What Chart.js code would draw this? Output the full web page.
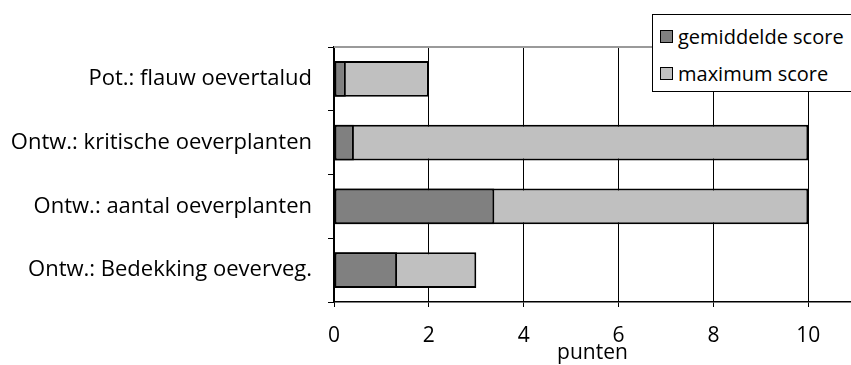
<!DOCTYPE html>
<html>
<head>
<meta charset="utf-8">
<script src="https://cdn.jsdelivr.net/npm/chart.js@4/dist/chart.umd.min.js"></script>
<style>
  html, body { margin: 0; padding: 0; background: #fff; }
  #wrap { position: relative; width: 851px; height: 365px; overflow: hidden; }
  #legend { position: absolute; left: 652px; top: 14px; width: 210px; height: 76px;
    border: 1px solid #000; background: #fff; font-family: "Open Sans", sans-serif; font-size: 20px; color: #000; }
  .item { position: absolute; left: 7px; height: 24px; line-height: 24px; white-space: nowrap; }
  .sw { display: inline-block; width: 11px; height: 11px; border: 1.5px solid #000; vertical-align: middle; margin-right: 5px; position: relative; top: -2px; }
</style>
</head>
<body>
<div id="wrap">
  <canvas id="c" width="851" height="365"></canvas>
  <div id="legend"></div>
</div>
<script>
const categories = ["Pot.: flauw oevertalud", "Ontw.: kritische oeverplanten", "Ontw.: aantal oeverplanten", "Ontw.: Bedekking oeverveg."];
const gemiddeldeScore = [0.25, 0.42, 3.38, 1.33];
const maximumScore = [2, 10, 10, 3];
const seriesNames = ["gemiddelde score", "maximum score"];
const seriesColors = ["#808080", "#c0c0c0"];
const xTicks = [0, 2, 4, 6, 8, 10];
const xMax = 10.9;
const axisTitle = "punten";

const FONT = "'Open Sans', sans-serif";

const topLine = {
  id: 'topLine',
  afterDraw(chart) {
    const {ctx, chartArea} = chart;
    ctx.save();
    ctx.strokeStyle = '#9a9a9a';
    ctx.lineWidth = 2;
    ctx.beginPath();
    ctx.moveTo(chartArea.left, chartArea.top);
    ctx.lineTo(chartArea.right, chartArea.top);
    ctx.stroke();
    ctx.restore();
  }
};

new Chart(document.getElementById('c'), {
  type: 'bar',
  data: {
    labels: categories,
    datasets: [
      { label: seriesNames[0], data: gemiddeldeScore, backgroundColor: seriesColors[0], borderColor: '#000', borderWidth: 2, borderSkipped: false, grouped: false, barPercentage: 0.56, categoryPercentage: 1 },
      { label: seriesNames[1], data: maximumScore, backgroundColor: seriesColors[1], borderColor: '#000', borderWidth: 2, borderSkipped: false, grouped: false, barPercentage: 0.56, categoryPercentage: 1 }
    ]
  },
  options: {
    indexAxis: 'y',
    responsive: false,
    animation: false,
    layout: { padding: { top: 47, right: 0, bottom: 0, left: 0 } },
    plugins: { legend: { display: false }, tooltip: { enabled: false } },
    scales: {
      x: {
        min: 0, max: xMax,
        afterBuildTicks(scale) { scale.ticks = xTicks.map(v => ({ value: v })); },
        afterFit(scale) { scale.height = 63; },
        grid: { color: '#000', lineWidth: 1, tickLength: 5, drawTicks: true },
        border: { color: '#000', width: 1.5 },
        ticks: { color: '#000', font: { family: FONT, size: 21 }, padding: 16, maxRotation: 0 },
        title: { display: true, text: axisTitle, color: '#000', font: { family: FONT, size: 21 }, padding: { top: 0, bottom: -1 } }
      },
      y: {
        afterFit(scale) { scale.width = 334; },
        grid: { drawOnChartArea: false, color: '#000', tickLength: 6, offset: true },
        border: { color: '#000', width: 1.5 },
        ticks: { color: '#000', font: { family: FONT, size: 22 }, padding: 16 }
      }
    }
  },
  plugins: [topLine]
});

const lg = document.getElementById('legend');
seriesNames.forEach((n, i) => {
  const d = document.createElement('div');
  d.className = 'item';
  d.style.top = (10 + i * 37) + 'px';
  const s = document.createElement('span');
  s.className = 'sw';
  s.style.background = seriesColors[i];
  d.appendChild(s);
  d.appendChild(document.createTextNode(n));
  lg.appendChild(d);
});
</script>
</body>
</html>
